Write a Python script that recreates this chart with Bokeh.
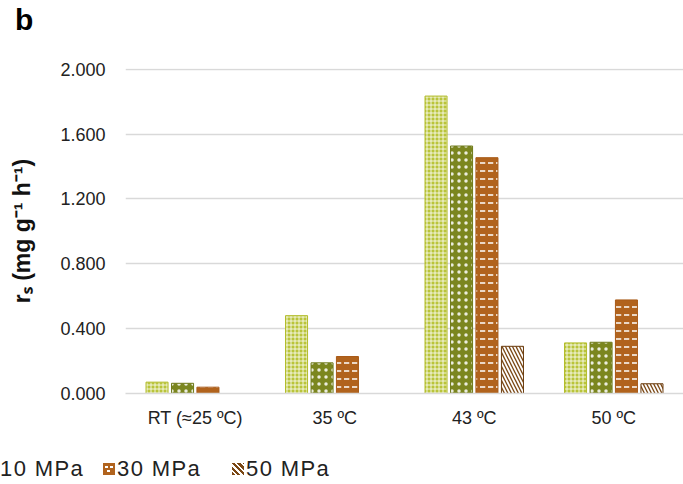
from bokeh.plotting import figure
from bokeh.layouts import column
from bokeh.models import (ColumnDataSource, FactorRange, Range1d, NumeralTickFormatter,
                          FixedTicker, Div)
from bokeh.transform import dodge
from bokeh.embed import file_html
from bokeh.resources import INLINE

# ---- data ----
categories = ["RT (≈25 ºC)", "35 ºC", "43 ºC", "50 ºC"]
series_names = ["0.1 MPa", "10 MPa", "30 MPa", "50 MPa"]
s_01 = [0.070, 0.480, 1.834, 0.312]
s_10 = [0.063, 0.189, 1.526, 0.316]
s_30 = [0.039, 0.228, 1.454, 0.577]
s_50 = [None, None, 0.291, 0.060]
y_ticks = [0.0, 0.4, 0.8, 1.2, 1.6, 2.0]
panel_label = "b"
y_label = "rₛ (mg g⁻¹ h⁻¹)"

series_values = [s_01, s_10, s_30, s_50]

FONT = "Liberation Sans"

# ---- styles ----
styles = [
    dict(fill_color="#b9c43a", line_color="#b3bd2c", hatch_pattern="cross",
         hatch_color="white", hatch_scale=4, hatch_weight=0.8),
    dict(fill_color="#7b861f", line_color="#6f7a1a", hatch_pattern="dot",
         hatch_color="white", hatch_scale=7, hatch_weight=1, hatch_alpha=0.85),
    dict(fill_color="#b1631d", line_color="#a85a18", hatch_pattern="horizontal_dash",
         hatch_color="white", hatch_scale=8, hatch_weight=1.5),
    dict(fill_color="#7a4714", line_color="#6d3f12", hatch_pattern="left_diagonal_line",
         hatch_color="white", hatch_scale=7, hatch_weight=1.8),
]
offsets = [-0.274, -0.091, 0.091, 0.274]
bar_width = 0.158


def series_source(vals):
    xs = [c for c, v in zip(categories, vals) if v is not None]
    ys = [v for v in vals if v is not None]
    return ColumnDataSource(dict(x=xs, top=ys))


p = figure(width=683, height=410, x_range=FactorRange(*categories, range_padding=0),
           y_range=Range1d(0, 2.004), output_backend="svg", toolbar_location=None,
           title=None, min_border_left=125, min_border_right=0, min_border_top=38,
           min_border_bottom=47, margin=0)
p.outline_line_color = None
p.background_fill_color = "white"
p.border_fill_color = "white"

for vals, st, off in zip(series_values, styles, offsets):
    p.vbar(x=dodge("x", off, range=p.x_range), top="top", bottom=0,
           width=bar_width, source=series_source(vals), line_width=1, **st)

# axes
p.xgrid.grid_line_color = None
p.ygrid.grid_line_color = "#d9d9d9"
p.ygrid.grid_line_width = 1.5
p.yaxis.ticker = FixedTicker(ticks=y_ticks)
p.yaxis.formatter = NumeralTickFormatter(format="0.000")
p.yaxis.axis_line_color = None
p.yaxis.major_tick_line_color = None
p.yaxis.minor_tick_line_color = None
p.yaxis.major_label_standoff = 14
p.yaxis.major_label_text_font = FONT
p.yaxis.major_label_text_font_size = "18px"
p.yaxis.major_label_text_color = "#222222"
p.yaxis.axis_label = y_label
p.yaxis.axis_label_text_font = FONT
p.yaxis.axis_label_text_font_size = "23px"
p.yaxis.axis_label_text_font_style = "bold"
p.yaxis.axis_label_text_color = "#111111"
p.yaxis.axis_label_standoff = 22

p.xaxis.axis_line_color = "#d9d9d9"
p.xaxis.axis_line_width = 1.5
p.xaxis.major_tick_line_color = None
p.xaxis.minor_tick_line_color = None
p.xaxis.major_label_standoff = 8
p.xaxis.major_label_text_font = FONT
p.xaxis.major_label_text_font_size = "18px"
p.xaxis.major_label_text_color = "#222222"

# panel letter
head = Div(width=683, height=30, margin=0, text=(
    f'<div style="position:absolute;left:15px;top:5px;font-family:\'{FONT}\';'
    f'font-size:30px;font-weight:bold;line-height:1;color:#000">{panel_label}</div>'))

# legend strip (first entries run off the left edge, as in the reference)
swatch_css = [
    "background-color:#7b861f;background-image:radial-gradient(#fff 0.8px, transparent 1.2px);"
    "background-size:6px 6px;",
    "background-color:#b1631d;background-image:linear-gradient(#fff,#fff),linear-gradient(#fff,#fff),"
    "linear-gradient(#fff,#fff);background-size:3px 2px,3px 2px,3px 2px;"
    "background-position:2px 3px,7px 3px,4px 7px;background-repeat:no-repeat;",
    "background-color:#7a4714;background-image:repeating-linear-gradient(45deg,#7a4714 0 2.2px,#fff 2.2px 4px);",
]
legend_left = [-14, 103, 232]
items_html = ""
for name, css, left in zip(series_names[1:], swatch_css, legend_left):
    items_html += (
        f'<div style="position:absolute;left:{left}px;top:18px;display:flex;align-items:center;'
        f'white-space:nowrap;">'
        f'<span style="display:inline-block;width:12px;height:12px;margin-right:2px;{css}"></span>'
        f'<span style="font-family:\'{FONT}\';font-size:22px;letter-spacing:1.4px;line-height:1;'
        f'color:#222">{name}</span></div>')
legend_div = Div(width=683, height=44, margin=0, text=(
    f'<div style="position:relative;width:683px;height:44px;overflow:hidden">{items_html}</div>'))

layout = column(head, p, legend_div, spacing=0)
open("out.html", "w").write(file_html(layout, INLINE))
